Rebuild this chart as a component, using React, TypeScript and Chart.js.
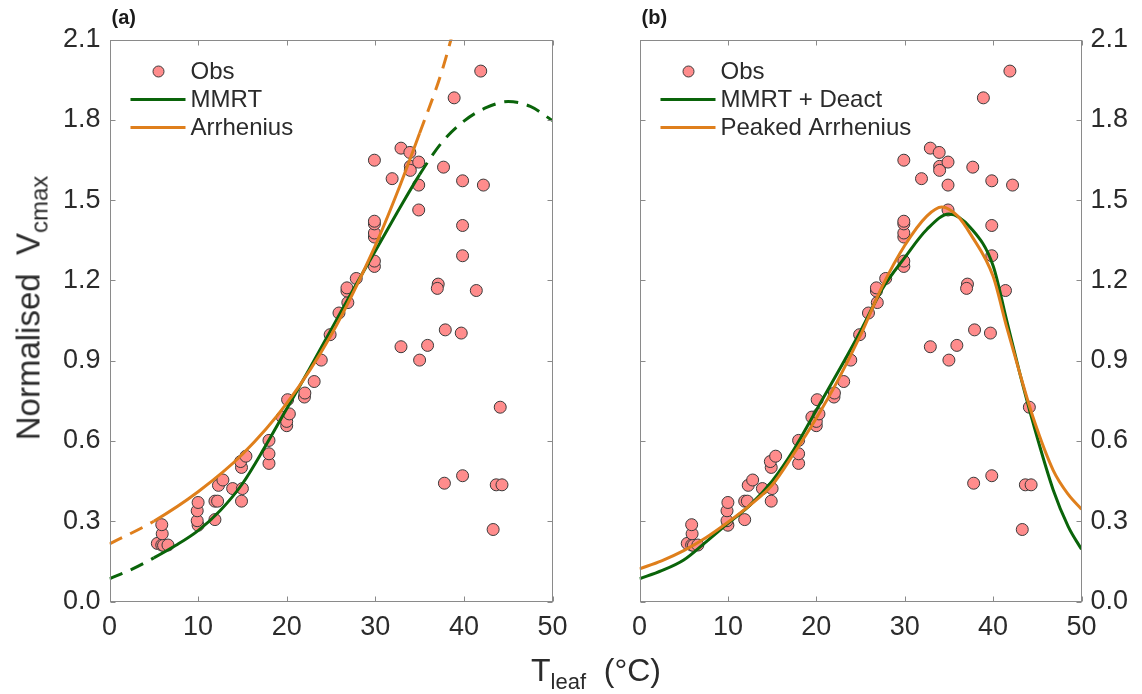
import React, { useEffect, useRef } from "react";
import { Chart, registerables } from "chart.js";

Chart.register(...registerables);

// ---------------- data ----------------
const obsT = [
  5.4, 5.9, 6.1, 6.6, 5.95, 5.9, 10.0, 9.9, 9.9, 10.0, 11.9, 11.9, 12.2, 12.3, 12.8,
  13.9, 14.9, 15.0, 14.9, 14.8, 15.4, 18.0, 18.0, 18.0, 19.5, 20.0, 20.0, 20.3, 20.1,
  22.0, 22.05, 23.1, 23.9, 24.9, 25.9, 26.9, 26.8, 26.8, 27.85, 29.9, 29.9, 29.9, 29.9,
  29.9, 29.9, 29.9, 31.9, 32.9, 33.9, 33.95, 33.95, 34.9, 34.9, 34.9, 37.7, 39.85, 42.2,
  39.85, 39.85, 37.1, 37.0, 41.4, 38.9, 41.9, 32.9, 35.0, 35.9, 37.9, 39.7, 44.1, 37.8,
  39.85, 43.65, 44.3, 43.3,
];
const obsV = [
  0.217, 0.211, 0.21, 0.211, 0.253, 0.287, 0.285, 0.302, 0.339, 0.37, 0.306, 0.375, 0.375,
  0.434, 0.454, 0.422, 0.375, 0.422, 0.501, 0.523, 0.543, 0.516, 0.552, 0.602, 0.689, 0.657,
  0.673, 0.701, 0.754, 0.764, 0.779, 0.822, 0.902, 0.997, 1.078, 1.117, 1.16, 1.172, 1.207,
  1.252, 1.272, 1.362, 1.377, 1.411, 1.421, 1.649, 1.58, 1.694, 1.678, 1.626, 1.611, 1.642,
  1.556, 1.463, 1.623, 1.572, 1.556, 1.405, 1.292, 1.186, 1.17, 1.162, 1.882, 1.982, 0.952,
  0.902, 0.957, 1.015, 1.003, 0.726, 0.442, 0.47, 0.436, 0.436, 0.269,
];

// panel (a) MMRT
const mmrtT = [0, 2.5, 5, 7.5, 10, 12.5, 15, 17.5, 20, 22.5, 25, 27.5, 30, 32.5, 35, 37.5, 40, 42.5, 45, 47.5, 50];
const mmrtV = [0.085, 0.12, 0.163, 0.21, 0.265, 0.34, 0.44, 0.575, 0.72, 0.865, 1.015, 1.165, 1.31, 1.455, 1.595, 1.715, 1.795, 1.845, 1.868, 1.85, 1.797];

// panel (a) Arrhenius
const arrT = [0, 5, 10, 15, 20, 25, 30, 32.5, 35, 37.5, 40];
const arrV = [0.215, 0.3, 0.41, 0.55, 0.74, 0.995, 1.33, 1.53, 1.75, 1.98, 2.28];

// panel (b) MMRT + Deact
const deactT = [0, 2.5, 5, 7.5, 10, 12.5, 15, 17.5, 20, 22.5, 25, 27.5, 30, 32.5, 35, 37.5, 40, 41.5, 43, 44.5, 46.8, 48.5, 50];
const deactV = [0.085, 0.115, 0.155, 0.222, 0.292, 0.36, 0.45, 0.57, 0.715, 0.86, 1.01, 1.17, 1.285, 1.39, 1.448, 1.395, 1.255, 1.055, 0.855, 0.67, 0.417, 0.28, 0.195];

// panel (b) Peaked Arrhenius
const peakT = [0, 2.5, 5, 7.5, 10, 12.5, 15, 17.5, 20, 22.5, 25, 27.5, 30, 32.5, 34.2, 36, 37.5, 40, 41.5, 43, 44.5, 46.8, 48.5, 50];
const peakV = [0.122, 0.152, 0.19, 0.238, 0.296, 0.36, 0.435, 0.555, 0.685, 0.83, 0.995, 1.18, 1.33, 1.44, 1.474, 1.44, 1.37, 1.215, 1.03, 0.855, 0.69, 0.49, 0.4, 0.345];

const xTicks = [0, 10, 20, 30, 40, 50];
const yTicks = [0, 0.3, 0.6, 0.9, 1.2, 1.5, 1.8, 2.1];

const legendA = ["Obs", "MMRT", "Arrhenius"];
const legendB = ["Obs", "MMRT + Deact", "Peaked Arrhenius"];

// fitted range shown solid in panel (a)
const solidRange = [5, 35];

// ---------------- style ----------------
const GREEN = "#0a640a";
const ORANGE = "#df7f1c";
const PINK = "#ff8c8c";
const TEXT = "#2b2b2b";
const FRAME = "#8a8a8a";
const FONT = "'Liberation Sans', Arial, sans-serif";

const pts = (xs: number[], ys: number[]) => xs.map((x, i) => ({ x, y: ys[i] }));

function makePlugin(label: string, legend: string[]) {
  return {
    id: "frameLegend" + label,
    afterDatasetsDraw(chart: any) {
      const { ctx, chartArea: a, scales } = chart;
      const L = Math.round(a.left) + 0.5;
      const R = Math.round(a.right) - 0.5;
      const T = Math.round(a.top) + 0.5;
      const B = Math.round(a.bottom) - 0.5;
      ctx.save();
      ctx.strokeStyle = FRAME;
      ctx.lineWidth = 1;
      ctx.strokeRect(L, T, R - L, B - T);
      ctx.beginPath();
      const tl = 5;
      xTicks.forEach((v) => {
        const px = Math.round(scales.x.getPixelForValue(v)) + 0.5;
        ctx.moveTo(px, B);
        ctx.lineTo(px, B - tl);
        ctx.moveTo(px, T);
        ctx.lineTo(px, T + tl);
      });
      yTicks.forEach((v) => {
        const py = Math.round(scales.y.getPixelForValue(v)) + 0.5;
        ctx.moveTo(L, py);
        ctx.lineTo(L + tl, py);
        ctx.moveTo(R, py);
        ctx.lineTo(R - tl, py);
      });
      ctx.stroke();

      // legend
      const lx = a.left;
      const ly = a.top;
      ctx.beginPath();
      ctx.arc(lx + 49, ly + 32, 5.5, 0, Math.PI * 2);
      ctx.fillStyle = PINK;
      ctx.fill();
      ctx.strokeStyle = "#3a3a3a";
      ctx.lineWidth = 1;
      ctx.stroke();
      ctx.lineWidth = 3;
      ctx.strokeStyle = GREEN;
      ctx.beginPath();
      ctx.moveTo(lx + 21, ly + 60);
      ctx.lineTo(lx + 76, ly + 60);
      ctx.stroke();
      ctx.strokeStyle = ORANGE;
      ctx.beginPath();
      ctx.moveTo(lx + 21, ly + 88);
      ctx.lineTo(lx + 76, ly + 88);
      ctx.stroke();
      ctx.fillStyle = TEXT;
      ctx.font = `24px ${FONT}`;
      ctx.textBaseline = "middle";
      ctx.textAlign = "left";
      ctx.fillText(legend[0], lx + 81, ly + 33);
      ctx.fillText(legend[1], lx + 81, ly + 61);
      ctx.fillText(legend[2], lx + 81, ly + 89);

      // panel label
      ctx.font = `bold 20px ${FONT}`;
      ctx.textBaseline = "alphabetic";
      ctx.fillStyle = "#1a1a1a";
      ctx.fillText(label, a.left + 2, 24);
      ctx.restore();
    },
  };
}

function dashSeg(ctx: any) {
  const x0 = ctx.p0.parsed.x;
  const x1 = ctx.p1.parsed.x;
  return x0 < solidRange[0] || x1 > solidRange[1] ? [14, 9] : undefined;
}

function baseScales(side: "left" | "right") {
  return {
    x: {
      type: "linear",
      min: 0,
      max: 50,
      afterBuildTicks: (s: any) => {
        s.ticks = xTicks.map((v) => ({ value: v }));
      },
      afterFit: (s: any) => {
        s.height = 50;
      },
      grid: { display: false, drawTicks: false },
      border: { display: false },
      ticks: {
        color: TEXT,
        padding: 10,
        font: { family: FONT, size: 27 },
        callback: (v: any) => String(v),
      },
    },
    y: {
      type: "linear",
      position: side,
      min: 0,
      max: 2.1,
      afterBuildTicks: (s: any) => {
        s.ticks = yTicks.map((v) => ({ value: v }));
      },
      afterFit: (s: any) => {
        s.width = side === "left" ? 109.5 : 60.5;
      },
      grid: { display: false, drawTicks: false },
      border: { display: false },
      ticks: {
        color: TEXT,
        padding: 9,
        font: { family: FONT, size: 27 },
        callback: (v: any) => Number(v).toFixed(1),
      },
    },
  };
}

function PanelA() {
  const ref = useRef<HTMLCanvasElement | null>(null);
  useEffect(() => {
    if (!ref.current) return;
    const chart = new Chart(ref.current, {
      type: "scatter",
      data: {
        datasets: [
          {
            type: "line",
            label: legendA[2],
            data: pts(arrT, arrV),
            borderColor: ORANGE,
            borderWidth: 3,
            pointRadius: 0,
            cubicInterpolationMode: "monotone",
            segment: { borderDash: dashSeg },
            order: 0,
          } as any,
          {
            type: "line",
            label: legendA[1],
            data: pts(mmrtT, mmrtV),
            borderColor: GREEN,
            borderWidth: 3,
            pointRadius: 0,
            cubicInterpolationMode: "monotone",
            segment: { borderDash: dashSeg },
            order: 1,
          } as any,
          {
            label: legendA[0],
            data: pts(obsT, obsV),
            backgroundColor: PINK,
            borderColor: "#3a3a3a",
            borderWidth: 1,
            pointRadius: 6,
            order: 2,
          },
        ],
      },
      options: {
        responsive: false,
        animation: false,
        devicePixelRatio: 1,
        layout: { padding: { left: 0, top: 39.5, right: 590 - 552.5, bottom: 694 - 601.5 - 50 } },
        plugins: { legend: { display: false }, tooltip: { enabled: false } },
        scales: baseScales("left") as any,
      },
      plugins: [makePlugin("(a)", legendA)],
    });
    return () => chart.destroy();
  }, []);
  return (
    <canvas
      ref={ref}
      width={590}
      height={694}
      style={{ position: "absolute", left: 0, top: 0, width: 590, height: 694 }}
    />
  );
}

function PanelB() {
  const ref = useRef<HTMLCanvasElement | null>(null);
  useEffect(() => {
    if (!ref.current) return;
    const chart = new Chart(ref.current, {
      type: "scatter",
      data: {
        datasets: [
          {
            type: "line",
            label: legendB[2],
            data: pts(peakT, peakV),
            borderColor: ORANGE,
            borderWidth: 3,
            pointRadius: 0,
            cubicInterpolationMode: "monotone",
            order: 0,
          } as any,
          {
            type: "line",
            label: legendB[1],
            data: pts(deactT, deactV),
            borderColor: GREEN,
            borderWidth: 3,
            pointRadius: 0,
            cubicInterpolationMode: "monotone",
            order: 1,
          } as any,
          {
            label: legendB[0],
            data: pts(obsT, obsV),
            backgroundColor: PINK,
            borderColor: "#3a3a3a",
            borderWidth: 1,
            pointRadius: 6,
            order: 2,
          },
        ],
      },
      options: {
        responsive: false,
        animation: false,
        devicePixelRatio: 1,
        layout: { padding: { left: 639.5 - 590, top: 39.5, right: 0, bottom: 694 - 601.5 - 50 } },
        plugins: { legend: { display: false }, tooltip: { enabled: false } },
        scales: baseScales("right") as any,
      },
      plugins: [makePlugin("(b)", legendB)],
    });
    return () => chart.destroy();
  }, []);
  return (
    <canvas
      ref={ref}
      width={552}
      height={694}
      style={{ position: "absolute", left: 590, top: 0, width: 552, height: 694 }}
    />
  );
}

export default function App() {
  return (
    <div
      style={{
        position: "absolute",
        left: 0,
        top: 0,
        width: 1142,
        height: 694,
        background: "#fff",
        overflow: "hidden",
        fontFamily: FONT,
      }}
    >
      <PanelA />
      <PanelB />
      <div
        style={{
          position: "absolute",
          left: 28,
          top: 308,
          transform: "translate(-50%, -50%) rotate(-90deg)",
          whiteSpace: "nowrap",
          fontSize: 33,
          color: TEXT,
          lineHeight: 1,
        }}
      >
        Normalised&nbsp;&nbsp;V
        <span style={{ fontSize: 24, position: "relative", top: 8 }}>cmax</span>
      </div>
      <div
        style={{
          position: "absolute",
          left: 596,
          top: 654,
          transform: "translateX(-50%)",
          whiteSpace: "nowrap",
          fontSize: 32,
          color: TEXT,
          lineHeight: 1,
        }}
      >
        T<span style={{ fontSize: 22, position: "relative", top: 8 }}>leaf</span>&nbsp;&nbsp;(°C)
      </div>
    </div>
  );
}
